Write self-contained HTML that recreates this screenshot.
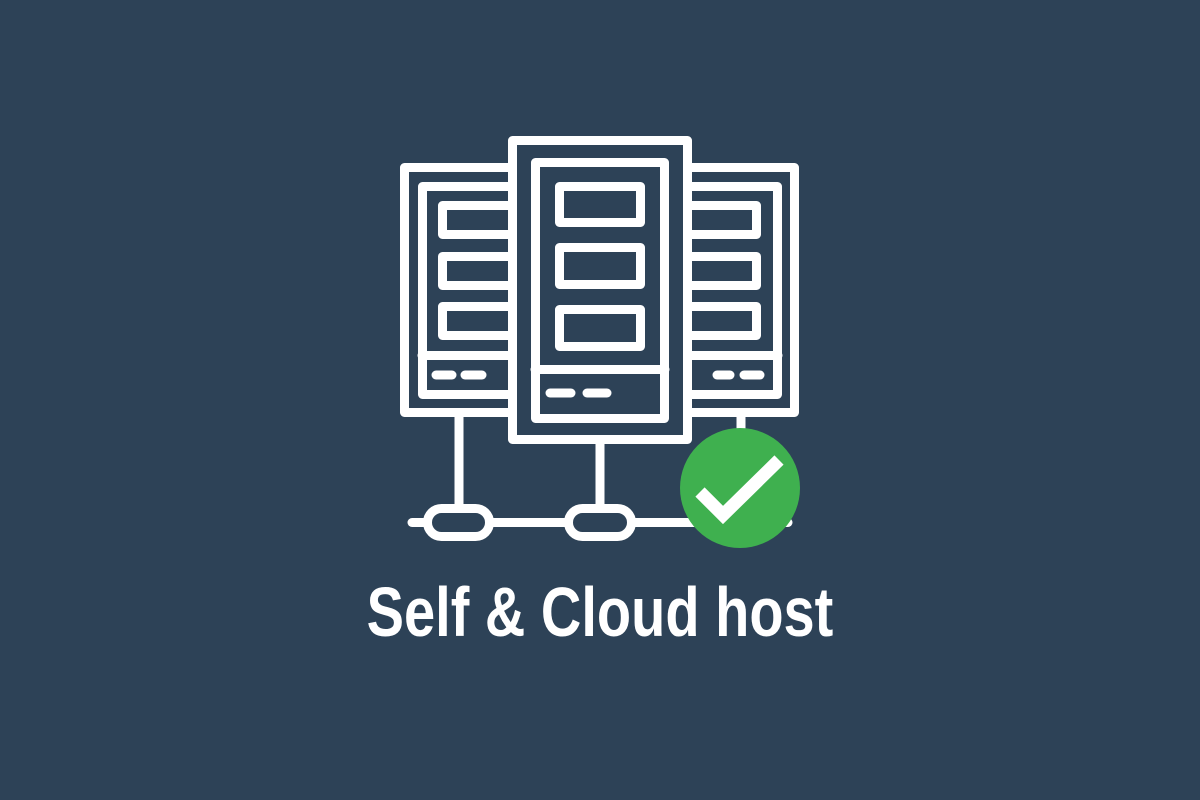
<!DOCTYPE html>
<html><head><style>
html,body{margin:0;padding:0;background:#2d4257;}
body{width:1200px;height:800px;overflow:hidden;position:relative;}
.t{position:absolute;left:0;width:1200px;top:572px;text-align:center;color:#fff;font:bold 70px "Liberation Sans",sans-serif;letter-spacing:0px;transform:scaleX(0.8);transform-origin:600px 0;}
</style></head><body>
<svg width="1200" height="800" style="position:absolute;left:0;top:0">
<g fill="none" stroke="#fff" stroke-width="9" stroke-linejoin="round" stroke-linecap="round">
<rect x="404.5" y="167.5" width="390" height="245"/>
<rect x="422.5" y="186.5" width="355" height="208"/>
<line x1="422" y1="355.5" x2="778" y2="355.5"/>
<rect x="442.5" y="205.5" width="314" height="29"/>
<rect x="442.5" y="256.5" width="314" height="29"/>
<rect x="442.5" y="306.5" width="314" height="29"/>
<line x1="436" y1="375" x2="452" y2="375"/>
<line x1="465" y1="375" x2="482" y2="375"/>
<line x1="717" y1="375" x2="730" y2="375"/>
<line x1="744" y1="375" x2="760" y2="375"/>
<line x1="459" y1="417" x2="459" y2="505"/>
<line x1="600" y1="444" x2="600" y2="505"/>
<line x1="741" y1="417" x2="741" y2="505"/>
<line x1="412" y1="522.5" x2="788" y2="522.5"/>
<rect x="427.5" y="508.5" width="62" height="28" rx="14" fill="#2d4257"/>
<rect x="568.5" y="508.5" width="63" height="28" rx="14" fill="#2d4257"/>
</g>
<g fill="#2d4257" stroke="#fff" stroke-width="9" stroke-linejoin="round" stroke-linecap="round">
<rect x="512.5" y="140.5" width="175" height="299"/>
<rect x="535.5" y="162.5" width="129" height="256"/>
<line x1="535" y1="369.5" x2="665" y2="369.5"/>
<rect x="559.5" y="186.5" width="81" height="36"/>
<rect x="559.5" y="247.5" width="81" height="37"/>
<rect x="559.5" y="309.5" width="81" height="37"/>
<line x1="550" y1="393" x2="571" y2="393"/>
<line x1="587" y1="393" x2="607" y2="393"/>
</g>
<circle cx="740" cy="488" r="60" fill="#3fb04f"/>
<polyline points="700,492 723,515 779,460" fill="none" stroke="#fff" stroke-width="13"/>
</svg>
<div class="t">Self &amp; Cloud host</div>
</body></html>
